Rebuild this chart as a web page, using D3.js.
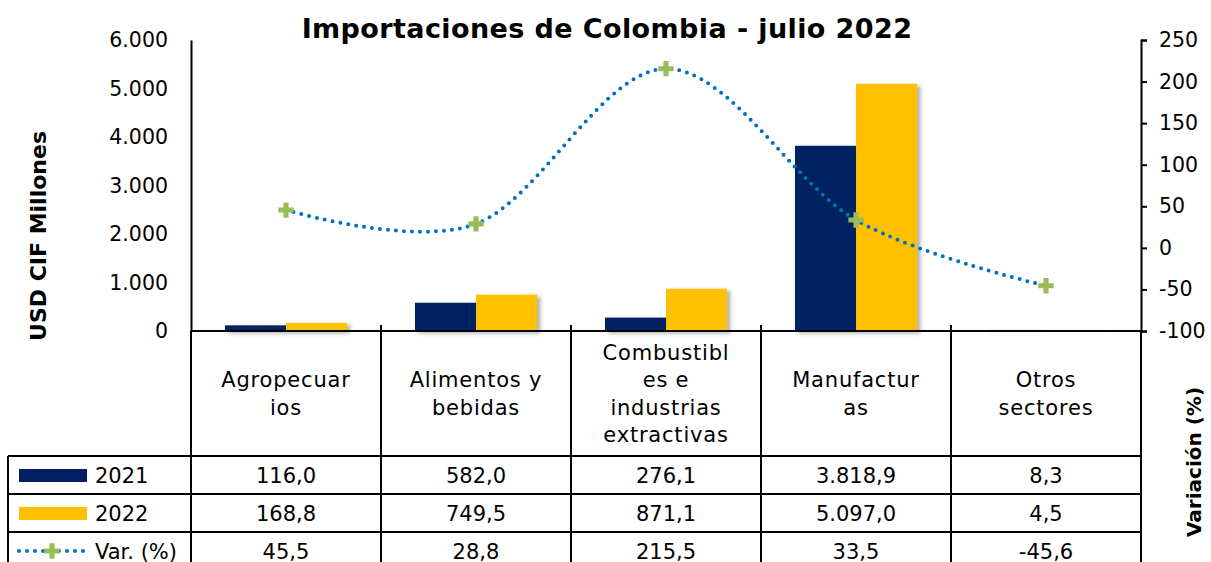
<!DOCTYPE html>
<html>
<head>
<meta charset="utf-8">
<script src="https://cdn.jsdelivr.net/npm/d3@7"></script>
<style>
  body { margin: 0; background: #fff; }
  text { font-family: "DejaVu Sans", sans-serif; fill: #000; }
</style>
</head>
<body>
<div id="chart"></div>
<script>
// data
const categories = ["Agropecuarios", "Alimentos y bebidas", "Combustibles e industrias extractivas", "Manufacturas", "Otros sectores"];
const categoryLines = [["Agropecuar", "ios"], ["Alimentos y", "bebidas"], ["Combustibl", "es e", "industrias", "extractivas"], ["Manufactur", "as"], ["Otros", "sectores"]];
const series = ["2021", "2022"];
const values2021 = [116.0, 582.0, 276.1, 3818.9, 8.3];
const values2022 = [168.8, 749.5, 871.1, 5097.0, 4.5];
const variation = [45.5, 28.8, 215.5, 33.5, -45.6];
const leftTicks = [0, 1000, 2000, 3000, 4000, 5000, 6000];
const rightTicks = [-100, -50, 0, 50, 100, 150, 200, 250];

const w = 1211, h = 562;
const margin = { top: 40, left: 191, right: 1141, plotBottom: 331 };
const colors = { "2021": "#002060", "2022": "#FFC000" };
const lineColor = "#0070C0", markerColor = "#9BBB59";

const es = d3.formatLocale({ decimal: ",", thousands: ".", grouping: [3], currency: ["", ""], minus: "-" });
const fmtAxis = es.format(",.0f");
const fmtVal = es.format(",.1f");

const svg = d3.select("#chart").append("svg")
    .attr("width", w)
    .attr("height", h);

const defs = svg.append("defs");
const shadow = defs.append("filter").attr("id", "shadow")
    .attr("x", "-20%").attr("y", "-20%").attr("width", "150%").attr("height", "150%");
shadow.append("feDropShadow")
    .attr("dx", 3).attr("dy", 2).attr("stdDeviation", 2)
    .attr("flood-color", "#000").attr("flood-opacity", 0.35);

// Scales
const x = d3.scaleBand()
    .domain(categories)
    .range([margin.left, margin.right])
    .padding(0);

const xSub = d3.scaleBand()
    .domain(series)
    .range([0, x.bandwidth()])
    .paddingOuter(0.557)
    .paddingInner(0);

const y = d3.scaleLinear()
    .domain([0, 6000])
    .range([margin.plotBottom, margin.top]);

const y2 = d3.scaleLinear()
    .domain([-100, 250])
    .range([margin.plotBottom, margin.top]);

// Title
svg.append("text")
    .attr("x", 607).attr("y", 38)
    .attr("text-anchor", "middle")
    .style("font-size", "27px").style("font-weight", "bold")
    .style("letter-spacing", "0.4px")
    .text("Importaciones de Colombia - julio 2022");

// Bars
const barData = categories.flatMap((c, i) => [
    { cat: c, s: "2021", v: values2021[i] },
    { cat: c, s: "2022", v: values2022[i] }
]);

svg.append("g").attr("filter", "url(#shadow)")
    .selectAll("rect")
    .data(barData)
    .enter()
    .append("rect")
    .attr("x", d => x(d.cat) + xSub(d.s))
    .attr("y", d => y(d.v))
    .attr("width", xSub.bandwidth())
    .attr("height", d => y(0) - y(d.v))
    .attr("fill", d => colors[d.s]);

// Left axis
const leftAxis = svg.append("g")
    .attr("transform", `translate(${margin.left},0)`)
    .call(d3.axisLeft(y).tickValues(leftTicks).tickSize(0).tickPadding(23).tickFormat(fmtAxis));
leftAxis.select(".domain").attr("stroke", "#000").attr("stroke-width", 2);
leftAxis.selectAll("text").style("font-size", "20.5px").style("font-family", "DejaVu Sans");

// Right axis
const rightAxis = svg.append("g")
    .attr("transform", `translate(${margin.right},0)`)
    .call(d3.axisRight(y2).tickValues(rightTicks).tickSizeInner(6).tickSizeOuter(6).tickPadding(12).tickFormat(fmtAxis));
rightAxis.select(".domain").attr("stroke", "#000").attr("stroke-width", 2);
rightAxis.selectAll(".tick line").attr("stroke", "#000").attr("stroke-width", 2);
rightAxis.selectAll("text").style("font-size", "20.5px").style("font-family", "DejaVu Sans");

// Axis titles
svg.append("text")
    .attr("transform", `translate(46,236) rotate(-90)`)
    .attr("text-anchor", "middle")
    .style("font-size", "22px").style("font-weight", "bold")
    .text("USD CIF Millones");

svg.append("text")
    .attr("transform", `translate(1201,462) rotate(-90)`)
    .attr("text-anchor", "middle")
    .style("font-size", "20px").style("font-weight", "bold")
    .text("Variación (%)");

// Variation line
const line = d3.line()
    .x((d, i) => x(categories[i]) + x.bandwidth() / 2)
    .y(d => y2(d))
    .curve(d3.curveCardinal.tension(0));

svg.append("path")
    .datum(variation)
    .attr("d", line)
    .attr("fill", "none")
    .attr("stroke", lineColor)
    .attr("stroke-width", 4)
    .attr("stroke-linecap", "round")
    .attr("stroke-dasharray", "0 8");

svg.append("g")
    .selectAll("path")
    .data(variation)
    .enter()
    .append("path")
    .attr("transform", (d, i) => `translate(${x(categories[i]) + x.bandwidth() / 2},${y2(d)})`)
    .attr("d", d3.symbol(d3.symbolCross, 130))
    .attr("fill", markerColor);

// Data table
const table = svg.append("g");
const rowTop = [456, 494, 532, 570];
const tableLeft = 8;
const stroke = (x1, y1, x2, y2) => table.append("line")
    .attr("x1", x1).attr("y1", y1).attr("x2", x2).attr("y2", y2)
    .attr("stroke", "#000").attr("stroke-width", 2);

// category axis line and cell borders
stroke(margin.left, margin.plotBottom, margin.right, margin.plotBottom);
stroke(margin.left, margin.plotBottom, margin.left, h);
stroke(margin.right, margin.plotBottom, margin.right, h);
categories.forEach((c, i) => {
    if (i > 0) stroke(x(c), margin.plotBottom - 6, x(c), h);
});
stroke(tableLeft, rowTop[0], tableLeft, h);
rowTop.forEach(r => stroke(tableLeft, r, margin.right, r));

// category labels
categories.forEach((c, i) => {
    const lines = categoryLines[i];
    const lh = 27.5;
    const cy = (margin.plotBottom + rowTop[0]) / 2;
    const t = table.append("text")
        .attr("text-anchor", "middle")
        .style("font-size", "21px")
        .style("letter-spacing", "0.8px");
    lines.forEach((l, j) => {
        t.append("tspan")
            .attr("x", x(c) + x.bandwidth() / 2)
            .attr("y", cy + (j - (lines.length - 1) / 2) * lh + 7.5)
            .text(l);
    });
});

// value rows
const rows = [
    { label: "2021", vals: values2021.map(fmtVal) },
    { label: "2022", vals: values2022.map(fmtVal) },
    { label: "Var. (%)", vals: variation.map(fmtVal) }
];
rows.forEach((r, ri) => {
    const cy = (rowTop[ri] + rowTop[ri + 1]) / 2;
    r.vals.forEach((v, i) => {
        table.append("text")
            .attr("x", x(categories[i]) + x.bandwidth() / 2)
            .attr("y", cy + 7.5)
            .attr("text-anchor", "middle")
            .style("font-size", "21px")
            .text(v);
    });
    table.append("text")
        .attr("x", 95)
        .attr("y", cy + 7.5)
        .style("font-size", "21px")
        .text(r.label);
    if (ri < 2) {
        table.append("rect")
            .attr("x", 19).attr("y", cy - 6)
            .attr("width", 68).attr("height", 13)
            .attr("fill", colors[r.label]);
    } else {
        table.append("line")
            .attr("x1", 19).attr("y1", cy).attr("x2", 87).attr("y2", cy)
            .attr("stroke", lineColor).attr("stroke-width", 4)
            .attr("stroke-linecap", "round").attr("stroke-dasharray", "0 8");
        table.append("path")
            .attr("transform", `translate(52,${cy})`)
            .attr("d", d3.symbol(d3.symbolCross, 130))
            .attr("fill", markerColor);
    }
});
</script>
</body>
</html>
